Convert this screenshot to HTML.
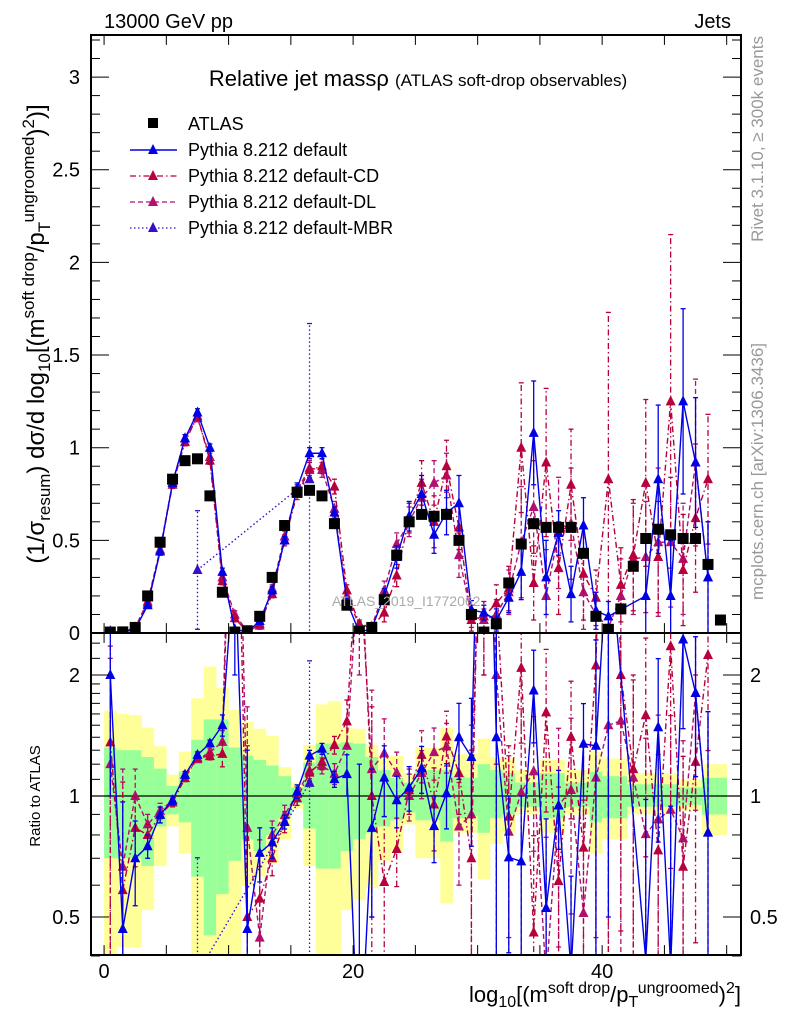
<!DOCTYPE html>
<html><head><meta charset="utf-8"><style>
html,body{margin:0;padding:0;background:#fff;overflow:hidden;}
svg{display:block;font-family:"Liberation Sans",sans-serif;}
</style></head><body>
<svg id="chart" width="786" height="1024" viewBox="0 0 786 1024">
<defs>
<clipPath id="cm"><rect x="91" y="35" width="650" height="598"/></clipPath>
<clipPath id="cr"><rect x="91" y="633" width="650" height="322"/></clipPath>
</defs>
<text x="104" y="28" font-size="20">13000 GeV pp</text>
<text x="731" y="28" font-size="20" text-anchor="end">Jets</text>
<g id="ratioBands" clip-path="url(#cr)"></g>
<g id="mainMarks" clip-path="url(#cm)"></g>
<g id="ratioMarks" clip-path="url(#cr)"></g>
<g id="axes"></g>
<text x="418" y="86" font-size="22" text-anchor="middle">Relative jet massρ <tspan font-size="17">(ATLAS soft-drop observables)</tspan></text>
<text x="332" y="606" font-size="14" fill="#aaa">ATLAS_2019_I1772062</text>
<g>
<rect x="148" y="118" width="10" height="10" fill="#000"/>
<text x="188" y="130" font-size="18">ATLAS</text>
<line x1="130" y1="150" x2="177" y2="150" stroke="#0000e6" stroke-width="1.5"/>
<polygon points="153,144 148,154 158,154" fill="#0000e6"/>
<text x="188" y="156" font-size="18">Pythia 8.212 default</text>
<line x1="130" y1="176" x2="177" y2="176" stroke="#b8003c" stroke-width="1.3" stroke-dasharray="6,3,1.5,3"/>
<polygon points="153,170 148,180 158,180" fill="#b8003c"/>
<text x="188" y="182" font-size="18">Pythia 8.212 default-CD</text>
<line x1="130" y1="202" x2="177" y2="202" stroke="#b01070" stroke-width="1.3" stroke-dasharray="5,3"/>
<polygon points="153,196 148,206 158,206" fill="#b01070"/>
<text x="188" y="208" font-size="18">Pythia 8.212 default-DL</text>
<line x1="130" y1="228" x2="177" y2="228" stroke="#3a0ec8" stroke-width="1.3" stroke-dasharray="1.5,2.5"/>
<polygon points="153,222 148,232 158,232" fill="#3a0ec8"/>
<text x="188" y="234" font-size="18">Pythia 8.212 default-MBR</text>
</g>
<text transform="translate(44,334) rotate(-90)" font-size="24" text-anchor="middle">(1/σ<tspan font-size="17" dy="6">resum</tspan><tspan dy="-6">) dσ/d log</tspan><tspan font-size="17" dy="6">10</tspan><tspan dy="-6">[(m</tspan><tspan font-size="17" dy="-10">soft drop</tspan><tspan dy="10">/p</tspan><tspan font-size="17" dy="6">T</tspan><tspan font-size="17" dy="-16">ungroomed</tspan><tspan dy="10">)</tspan><tspan font-size="17" dy="-10">2</tspan><tspan dy="10">)]</tspan></text>
<text transform="translate(40,796) rotate(-90)" font-size="15" text-anchor="middle">Ratio to ATLAS</text>
<text transform="translate(763,36) rotate(-90)" font-size="17" fill="#999" text-anchor="end">Rivet 3.1.10, ≥ 300k events</text>
<text transform="translate(763,343) rotate(-90)" font-size="17" fill="#999" text-anchor="end">mcplots.cern.ch [arXiv:1306.3436]</text>
<text x="741" y="1002" font-size="22" text-anchor="end">log<tspan font-size="16" dy="5">10</tspan><tspan dy="-5">[(m</tspan><tspan font-size="16" dy="-9">soft drop</tspan><tspan dy="9">/p</tspan><tspan font-size="16" dy="5">T</tspan><tspan font-size="16" dy="-14">ungroomed</tspan><tspan dy="9">)</tspan><tspan font-size="16" dy="-9">2</tspan><tspan dy="9">]</tspan></text>
</svg>
<script>
const dataVals=[0.005,0.006,0.03,0.2,0.49,0.83,0.93,0.94,0.74,0.22,0.005,0.012,0.09,0.3,0.58,0.76,0.77,0.74,0.59,0.15,0.01,0.03,0.18,0.42,0.6,0.64,0.63,0.64,0.5,0.1,0.005,0.05,0.27,0.48,0.59,0.57,0.57,0.57,0.43,0.09,0.02,0.13,0.36,0.51,0.56,0.53,0.51,0.51,0.37,0.07];
const defVals=[0.01,0.0028,0.021,0.15,0.44,0.81,1.05,1.19,1.0,0.33,0.02,0.0056,0.065,0.23,0.5,0.78,0.97,0.97,0.65,0.17,0.002,0.025,0.2,0.41,0.63,0.75,0.53,0.65,0.7,0.125,0.11,0.07,0.19,0.33,1.08,0.3,0.54,0.21,0.58,0.12,0.09,null,null,0.2,0.83,0.2,1.25,0.92,0.3,null];
const defErr=[0.005,0.003,0.005,0.01,0.02,0.02,0.02,0.02,0.02,0.02,0.01,0.01,0.01,0.02,0.02,0.03,0.03,0.03,0.03,0.02,0.01,0.01,0.04,0.06,0.08,0.1,0.1,0.12,0.15,0.05,0.04,0.06,0.08,0.15,0.28,0.2,0.12,0.15,0.15,0.1,0.08,0,0,0.3,0.4,0.3,0.5,0.35,0.3,0];
const cdVals=[0.0068,0.0035,0.025,0.16,0.44,0.8,1.03,1.17,0.93,0.28,0.08,0.006,0.05,0.21,0.5,0.75,0.88,0.9,0.79,0.23,0.05,0.03,0.11,0.31,0.62,0.81,0.6,0.9,0.57,0.07,0.09,0.16,0.24,1.0,0.27,0.92,0.35,0.8,0.32,0.19,0.83,0.26,0.42,0.81,0.41,1.25,0.34,0.62,0.83,null];
const cdErr=[0.005,0.003,0.005,0.01,0.02,0.02,0.02,0.02,0.02,0.02,0.02,0.01,0.02,0.02,0.03,0.03,0.04,0.04,0.04,0.03,0.02,0.02,0.05,0.06,0.08,0.12,0.14,0.14,0.12,0.06,0.08,0.1,0.12,0.35,0.2,0.4,0.25,0.3,0.25,0.15,0.9,0.2,0.3,0.45,0.3,0.9,0.3,0.4,0.35,0];
const dlVals=[0.006,0.004,0.03,0.17,0.45,0.81,1.05,1.16,0.95,0.3,0.1,0.01,0.04,0.24,0.52,0.77,0.89,0.88,0.67,0.2,0.04,0.035,0.23,0.48,0.6,0.73,0.81,0.85,0.42,0.09,0.07,0.1,0.22,0.49,0.68,0.2,0.54,0.59,0.22,0.1,0.03,0.2,0.4,0.41,0.49,0.49,0.4,0.92,0.3,null];
const dlErr=[0.005,0.003,0.005,0.01,0.02,0.02,0.02,0.02,0.02,0.02,0.02,0.01,0.02,0.02,0.03,0.03,0.04,0.04,0.04,0.03,0.02,0.02,0.05,0.06,0.08,0.1,0.12,0.12,0.12,0.06,0.06,0.08,0.12,0.3,0.25,0.25,0.3,0.3,0.2,0.12,0.05,0.2,0.3,0.3,0.4,0.35,0.3,0.45,0.3,0];
const mbrVals=[null,null,null,null,null,null,null,0.34,null,null,null,null,null,null,null,null,0.83,null,null,null,null,null,null,null,null,null,null,null,null,null,null,null,null,null,null,null,null,null,null,null,null,null,null,null,null,null,null,null,null,null];
const mbrErr=[0,0,0,0,0,0,0,0.32,0,0,0,0,0,0,0,0,0.84,0,0,0,0,0,0,0,0,0,0,0,0,0,0,0,0,0,0,0,0,0,0,0,0,0,0,0,0,0,0,0,0,0];
const greenUp=[1.32,1.3,1.3,1.25,1.17,1.06,1.15,1.38,1.55,1.55,1.32,1.26,1.23,1.19,1.12,1.05,1.21,1.35,1.35,1.36,1.35,1.25,1.16,1.11,1.08,1.16,1.16,1.16,1.12,1.11,1.2,1.16,1.14,1.08,1.08,1.14,1.14,1.08,1.08,1.15,1.12,1.12,1.07,1.07,1.07,1.07,1.05,1.05,1.11,1.11];
const greenDn=[0.7,0.7,0.7,0.67,0.84,0.9,0.86,0.63,0.45,0.57,0.69,0.78,0.73,0.8,0.88,0.96,0.83,0.66,0.66,0.73,0.78,0.81,0.84,0.87,0.91,0.87,0.87,0.77,0.88,0.89,0.81,0.88,0.9,0.94,0.94,0.88,0.88,0.94,0.94,0.86,0.88,0.88,0.94,0.94,0.94,0.94,0.95,0.95,0.9,0.9];
const yellowUp=[1.63,1.6,1.59,1.48,1.33,1.13,1.29,1.75,2.1,1.86,1.64,1.53,1.47,1.41,1.18,1.08,1.34,1.69,1.72,1.48,1.47,1.34,1.26,1.26,1.14,1.32,1.32,1.48,1.27,1.27,1.39,1.25,1.24,1.16,1.16,1.23,1.23,1.16,1.16,1.29,1.24,1.24,1.14,1.14,1.14,1.14,1.1,1.1,1.2,1.2];
const yellowDn=[0.35,0.42,0.42,0.52,0.67,0.84,0.72,0.35,0.35,0.35,0.35,0.6,0.63,0.68,0.78,0.93,0.67,0.35,0.38,0.52,0.55,0.59,0.69,0.73,0.85,0.7,0.7,0.54,0.81,0.81,0.62,0.76,0.81,0.9,0.9,0.81,0.81,0.9,0.9,0.72,0.78,0.78,0.9,0.9,0.9,0.9,0.92,0.92,0.8,0.8];
const mainTicks=[0,0.5,1,1.5,2,2.5,3];
const mainTickLabels=["0","0.5","1","1.5","2","2.5","3"];
const ratioTicks=[0.5,1,2];
const ratioTickLabels=["0.5","1","2"];
const xTicks=[0,20,40];
const xTickLabels=["0","20","40"];

const NS="http://www.w3.org/2000/svg";
const X0=91,X1=741,MT=35,MB=633,RB=955;
const xmin=-1.05,xmax=51.15;
const xs=v=>X0+(v-xmin)/(xmax-xmin)*(X1-X0);
const ymax=3.227;
const ys=v=>MB-v/ymax*(MB-MT);
const R1=796,RPD=402;
const yr=v=>R1-Math.log10(v)*RPD;
function mk(tag,attrs,parent){const e=document.createElementNS(NS,tag);for(const k in attrs)e.setAttribute(k,attrs[k]);parent.appendChild(e);return e;}
const gM=document.getElementById('mainMarks'),gR=document.getElementById('ratioMarks'),gB=document.getElementById('ratioBands'),gA=document.getElementById('axes');

for(let i=0;i<dataVals.length;i++){
  const xa=xs(i),xb=xs(i+1);
  const y1=mk('rect',{x:xa,y:yr(yellowUp[i]),width:xb-xa+0.3,height:yr(yellowDn[i])-yr(yellowUp[i]),fill:'#ffff99'},gB);
  
  
  const g1=mk('rect',{x:xa,y:yr(greenUp[i]),width:xb-xa+0.3,height:yr(greenDn[i])-yr(greenUp[i]),fill:'#99ff99'},gB);
  
  
}
const one=mk('line',{x1:X0,x2:X1,y1:yr(1),y2:yr(1),stroke:'#000','stroke-width':1.3},gR);



function series(vals,errs,color,dash,name,ratio){
  const g=mk('g',{},ratio?gR:gM);
  
  
  const pts=[];
  for(let i=0;i<vals.length;i++){
    if(vals[i]==null)continue;
    let v=vals[i],lo=vals[i]-errs[i],hi=vals[i]+errs[i];
    const xc=xs(i+0.5);
    let yc,yl,yh;
    if(ratio){
      if(!dataVals[i])continue;
      v=v/dataVals[i];lo=Math.max(lo/dataVals[i],0.01);hi=hi/dataVals[i];
      yc=yr(Math.max(v,0.01));yl=yr(lo);yh=yr(hi);
    }else{yc=ys(v);yl=ys(Math.max(lo,-0.1));yh=ys(hi);}
    pts.push([xc,yc]);
    if(errs[i]>0){
      mk('line',{x1:xc,x2:xc,y1:yl,y2:yh,stroke:color,'stroke-width':1.3,'stroke-dasharray':dash},g);
      mk('line',{x1:xc-2.5,x2:xc+2.5,y1:yh,y2:yh,stroke:color,'stroke-width':1.3},g);
      mk('line',{x1:xc-2.5,x2:xc+2.5,y1:yl,y2:yl,stroke:color,'stroke-width':1.3},g);
    }
  }
  mk('polyline',{points:pts.map(p=>p.join(',')).join(' '),fill:'none',stroke:color,'stroke-width':1.4,'stroke-dasharray':dash},g);
  pts.forEach(p=>{
    const t=mk('polygon',{points:`${p[0]},${p[1]-6} ${p[0]-5},${p[1]+4} ${p[0]+5},${p[1]+4}`,fill:color},g);
    
    
  });
}
const S=[[dlVals,dlErr,'#b01070','5,3','pythia-dl'],[cdVals,cdErr,'#b8003c','6,3,1.5,3','pythia-cd'],[mbrVals,mbrErr,'#3a0ec8','1.5,2.5','pythia-mbr'],[defVals,defErr,'#0000e6','','pythia-default']];
S.forEach(s=>{series(s[0],s[1],s[2],s[3],s[4],false);series(s[0],s[1],s[2],s[3],s[4],true);});
for(let i=0;i<dataVals.length;i++){
  const r=mk('rect',{x:xs(i+0.5)-5.5,y:ys(dataVals[i])-5.5,width:11,height:11,fill:'#000'},gM);
  
  
}
const f1=mk('rect',{x:X0,y:MT,width:X1-X0,height:MB-MT,fill:'none',stroke:'#000','stroke-width':2},gA);


const f2=mk('rect',{x:X0,y:MB,width:X1-X0,height:RB-MB,fill:'none',stroke:'#000','stroke-width':2},gA);


for(let k=0;k<=32;k++){const v=k*0.1,y=ys(v),L=(k%5==0)?18:9;
  mk('line',{x1:X0,x2:X0+L,y1:y,y2:y,stroke:'#000','stroke-width':1},gA);
  mk('line',{x1:X1,x2:X1-L,y1:y,y2:y,stroke:'#000','stroke-width':1},gA);}
mainTicks.forEach((v,i)=>{const t=mk('text',{x:80,y:ys(v)+7,'font-size':20,'text-anchor':'end'},gA);t.textContent=mainTickLabels[i];
  
  });
[0.4,0.5,0.6,0.7,0.8,0.9,1,1.1,1.2,1.3,1.4,1.5,1.6,1.7,1.8,1.9,2,2.2,2.4].forEach(v=>{const y=yr(v),L=([0.5,1,2].includes(v))?18:9;
  mk('line',{x1:X0,x2:X0+L,y1:y,y2:y,stroke:'#000','stroke-width':1},gA);
  mk('line',{x1:X1,x2:X1-L,y1:y,y2:y,stroke:'#000','stroke-width':1},gA);});
ratioTicks.forEach((v,i)=>{
  const t=mk('text',{x:80,y:yr(v)+7,'font-size':20,'text-anchor':'end'},gA);t.textContent=ratioTickLabels[i];
  
  
  const t2=mk('text',{x:750,y:yr(v)+7,'font-size':20},gA);t2.textContent=ratioTickLabels[i];
  
  });
for(let v=0;v<=50;v+=5){const x=xs(v);
  [[MB,-18],[MT,18],[RB,-18],[MB,18]].forEach(a=>mk('line',{x1:x,x2:x,y1:a[0],y2:a[0]+a[1]*0.55,stroke:'#000','stroke-width':1},gA));}
xTicks.forEach((v,i)=>{const t=mk('text',{x:xs(v),y:978,'font-size':20,'text-anchor':'middle'},gA);t.textContent=xTickLabels[i];
  
  });
</script>
</body></html>
